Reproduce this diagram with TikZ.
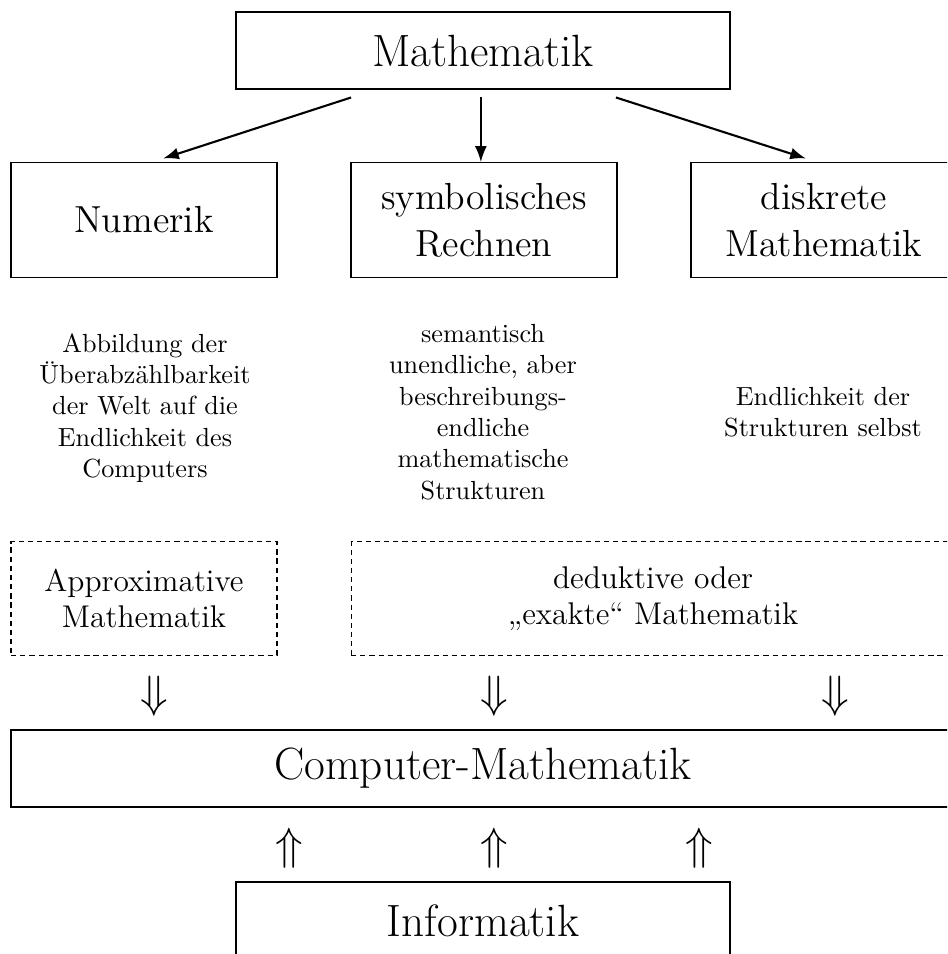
\documentclass[tikz,border=0pt]{standalone}
\usepackage{tikz}
\usetikzlibrary{arrows.meta}

\begin{document}
\begin{tikzpicture}[x=0.382pt, y=-0.382pt, >={Latex[length=6pt,width=4.5pt]},
	box/.style={draw, line width=0.5pt, align=center, inner sep=0pt},
	dbox/.style={draw, dash pattern=on 2pt off 1.5pt, line width=0.4pt, align=center, inner sep=0pt},
	txt/.style={align=center, inner sep=0pt}]
			% 画布
			\useasboundingbox (0,0) rectangle (947,954);
			\clip (0,0) rectangle (947,954);
			% 上面的框
			\node[box, minimum width=188.7pt, minimum height=29.4pt, font=\LARGE] (math) at (483,50.5) {Mathematik};
			\node[box, minimum width=101.6pt, minimum height=43.9pt, font=\Large] (num) at (144,220) {Numerik};
			\node[box, minimum width=101.6pt, minimum height=43.9pt, font=\Large] (symb) at (484,220) {symbolisches\\Rechnen};
			\node[box, minimum width=101.6pt, minimum height=43.9pt, font=\Large] (diskr) at (824,220) {diskrete\\Mathematik};
			\draw[line width=0.8pt, ->] ([xshift=-50.4pt,yshift=-3pt]math.south) -- ([xshift=7.3pt,yshift=1.3pt]num.north);
			\draw[line width=0.5pt, ->, shorten <=3pt] ([xshift=-1.2pt]symb.north |- math.south) -- ([xshift=-1.2pt]symb.north);
			\draw[line width=0.8pt, ->] ([xshift=50.8pt,yshift=-3pt]math.south) -- ([xshift=-6.9pt,yshift=1.3pt]diskr.north);
			% 说明文字
			\node[txt] (abb) at (145,408) {Abbildung der\\Überabzählbarkeit\\der Welt auf die\\Endlichkeit des\\Computers};
			\node[txt] (sem) at (483,412) {semantisch\\unendliche, aber\\beschreibungs-\\endliche\\mathematische\\Strukturen};
			\node[txt] (endl) at (823,412) {Endlichkeit der\\Strukturen selbst};
			% 虚线框
			\node[dbox, minimum width=101.6pt, minimum height=43.2pt, font=\large] (approx) at (144,598.5) {Approximative\\Mathematik};
			\node[dbox, minimum width=230.7pt, minimum height=43.2pt, font=\large] (dedukt) at (653,598.5) {deduktive oder\\„exakte“ Mathematik};
			\node[font=\LARGE] (dn1) at (154,696) {$\Downarrow$};
			\node[font=\LARGE] (dn2) at (494,696) {$\Downarrow$};
			\node[font=\LARGE] (dn3) at (835,696) {$\Downarrow$};
			% 下面的框
			\node[box, minimum width=360.6pt, minimum height=29.4pt, font=\LARGE] (cm) at (483,768.5) {Computer-Mathematik};
			\node[font=\LARGE] (up1) at (289,848) {$\Uparrow$};
			\node[font=\LARGE] (up2) at (494,848) {$\Uparrow$};
			\node[font=\LARGE] (up3) at (699,848) {$\Uparrow$};
			\node[box, minimum width=188.7pt, minimum height=29.4pt, font=\LARGE] (inf) at (483,920.5) {Informatik};
		\end{tikzpicture}
\end{document}
